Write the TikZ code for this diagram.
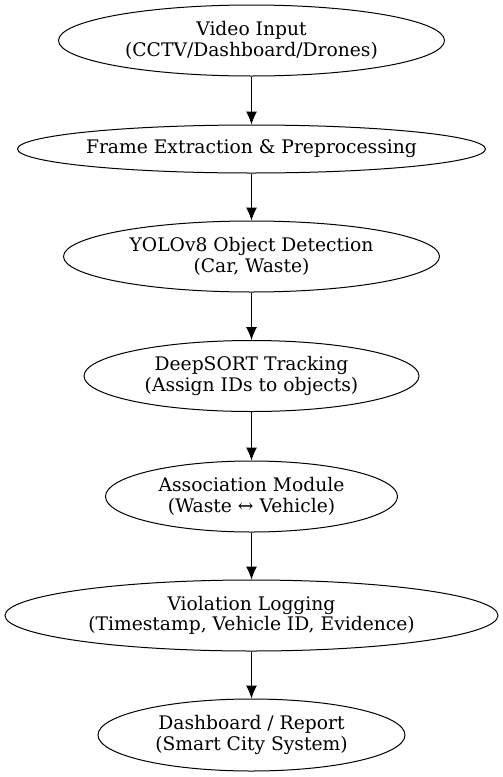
\documentclass[tikz,border=0pt]{standalone}
\usepackage{fontspec}
\setmainfont{DejaVu Serif}
\usetikzlibrary{arrows.meta,shapes.geometric}

\begin{document}
\begin{tikzpicture}[x=1pt,y=-1pt,>={Latex[length=13pt,width=11pt]},thick,
	stufe/.style={draw,ellipse,line width=1pt,inner sep=0pt,align=center,
		font=\fontsize{18.7}{20.5}\selectfont}]

\useasboundingbox (0,0) rectangle (503,777);

\def\ex{251.5}

\node[stufe,minimum width=386pt,minimum height=71pt] (vin) at (\ex,40.5)
	{Video Input\\(CCTV/Dashboard/Drones)};
\node[stufe,minimum width=461pt,minimum height=48pt] (fext) at (\ex,149)
	{Frame Extraction \& Preprocessing};
\node[stufe,minimum width=376pt,minimum height=71pt] (yolo) at (\ex,256.5)
	{YOLOv8 Object Detection\\(Car, Waste)};
\node[stufe,minimum width=335pt,minimum height=71pt] (dsort) at (\ex,376)
	{DeepSORT Tracking\\(Assign IDs to objects)};
\node[stufe,minimum width=292pt,minimum height=71pt] (assoc) at (\ex,496.5)
	{Association Module\\(Waste ↔ Vehicle)};
\node[stufe,minimum width=493pt,minimum height=71pt] (vlog) at (\ex,615.5)
	{Violation Logging\\(Timestamp, Vehicle ID, Evidence)};
\node[stufe,minimum width=307pt,minimum height=72pt] (dash) at (\ex,735)
	{Dashboard / Report\\(Smart City System)};

\foreach \a/\b in {vin/fext,fext/yolo,yolo/dsort,dsort/assoc,assoc/vlog,vlog/dash}
	\draw[->,line width=1pt] (\a.south) -- (\b.north);

\end{tikzpicture}
\end{document}
